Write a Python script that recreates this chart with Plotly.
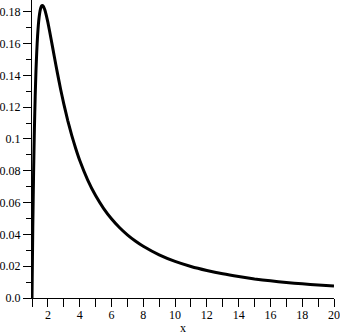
import plotly.graph_objects as go

# values
x_vals = [1.0, 1.05, 1.1, 1.15, 1.2, 1.25, 1.3, 1.35, 1.4, 1.45, 1.5, 1.55, 1.6, 1.65, 1.7,
          1.8, 1.9, 2.0, 2.2, 2.4, 2.6, 2.8, 3.0, 3.25, 3.5, 3.75, 4.0, 4.5, 5.0, 5.5,
          6.0, 6.5, 7.0, 7.5, 8.0, 9.0, 10.0, 11.0, 12.0, 13.0, 14.0, 15.0, 16.0, 17.0,
          18.0, 19.0, 20.0]
y_vals = [0.0, 0.0443, 0.0788, 0.1057, 0.1266, 0.1428, 0.1552, 0.1647, 0.1717, 0.1767,
          0.1802, 0.1824, 0.1836, 0.1839, 0.1836, 0.1814, 0.1778, 0.1733, 0.1629, 0.1520,
          0.1414, 0.1313, 0.1221, 0.1116, 0.1023, 0.0940, 0.0866, 0.0743, 0.0644, 0.0564,
          0.0498, 0.0443, 0.0397, 0.0358, 0.0325, 0.0271, 0.0230, 0.0198, 0.0173, 0.0152,
          0.0135, 0.0120, 0.0108, 0.0098, 0.0089, 0.0082, 0.0075]

x_ticks = list(range(1, 21))
x_labels = [str(v) if v % 2 == 0 else "" for v in x_ticks]
y_ticks = [0.0, 0.02, 0.04, 0.06, 0.08, 0.1, 0.12, 0.14, 0.16, 0.18]
y_labels = ["0.0", "0.02", "0.04", "0.06", "0.08", "0.1", "0.12", "0.14", "0.16", "0.18"]

font = dict(family="Liberation Serif", size=12, color="black")

fig = go.Figure()
fig.add_trace(go.Scatter(x=x_vals, y=y_vals, mode="lines",
                         line=dict(color="black", width=3, shape="spline", smoothing=0.5),
                         hoverinfo="skip"))

fig.update_layout(
    width=340, height=335,
    margin=dict(l=30, r=5, t=0, b=37),
    paper_bgcolor="white", plot_bgcolor="white",
    showlegend=False,
    font=font,
    xaxis=dict(range=[1, 20], showgrid=False, zeroline=False,
               showline=True, linecolor="black", linewidth=1,
               ticks="outside", ticklen=8, tickcolor="black", tickwidth=1,
               tickmode="array", tickvals=x_ticks, ticktext=x_labels,
               tickfont=font, ticklabeloverflow="allow", ticklabelstandoff=-2,
               title=dict(text="x", font=font, standoff=0)),
    yaxis=dict(range=[0, 0.1874], showgrid=False, zeroline=False,
               showline=True, linecolor="black", linewidth=1,
               ticks="outside", ticklen=8, tickcolor="black", tickwidth=1,
               tickmode="array", tickvals=y_ticks, ticktext=y_labels,
               tickfont=font, ticklabeloverflow="allow",
               minor=dict(dtick=0.01, tick0=0, ticks="outside", ticklen=5,
                          tickcolor="black", showgrid=False)),
)

fig.write_html("out.html")
